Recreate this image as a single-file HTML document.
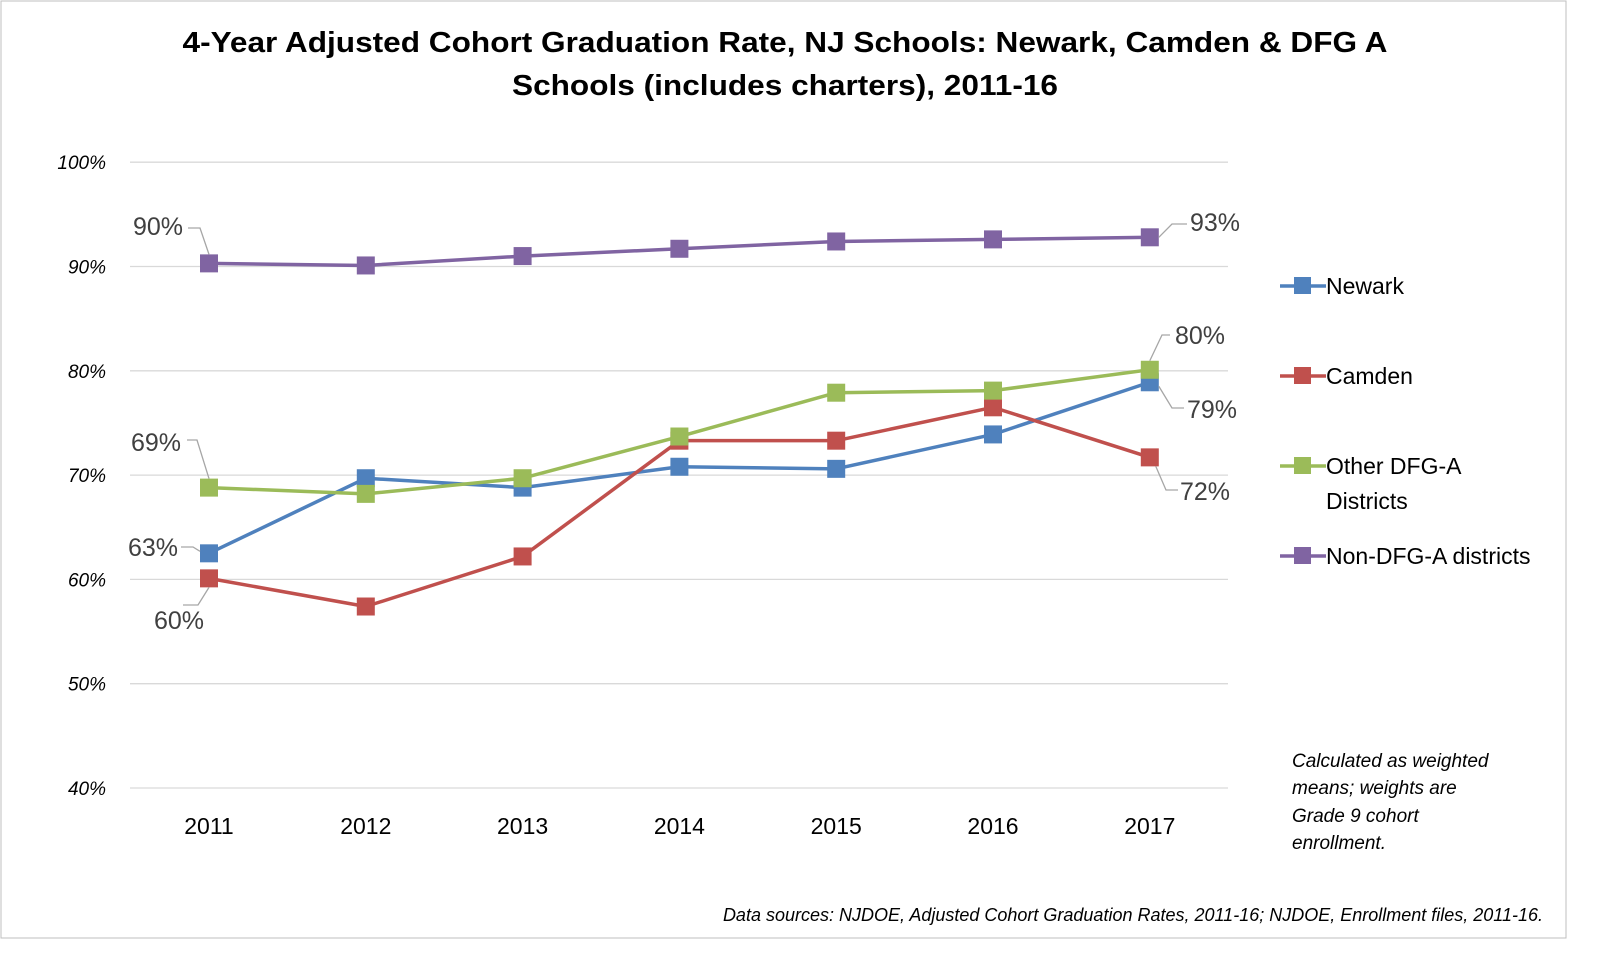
<!DOCTYPE html>
<html><head><meta charset="utf-8"><style>
html,body{margin:0;padding:0;background:#fff;overflow:hidden;width:1600px;height:960px;}
svg{display:block;font-family:"Liberation Sans",sans-serif;}
</style></head><body>
<svg width="1600" height="960" viewBox="0 0 1600 960">
<rect x="1" y="1" width="1565" height="937" fill="#fff" stroke="#bfbfbf"/>
<text x="785" y="52" text-anchor="middle" font-size="29" font-weight="bold" fill="#000" textLength="1205" lengthAdjust="spacingAndGlyphs">4-Year Adjusted Cohort Graduation Rate, NJ Schools: Newark, Camden &amp; DFG A</text>
<text x="785" y="95" text-anchor="middle" font-size="29" font-weight="bold" fill="#000" textLength="546" lengthAdjust="spacingAndGlyphs">Schools (includes charters), 2011-16</text>
<g id="grid"></g><g id="series"></g><g id="labels"></g>
<g font-size="23" fill="#000">
<line x1="1280" y1="286" x2="1326" y2="286" stroke="#4F81BD" stroke-width="3.5"/><rect x="1294" y="277" width="17" height="17" fill="#4F81BD"/>
<text x="1326" y="294">Newark</text>
<line x1="1280" y1="376" x2="1326" y2="376" stroke="#C0504D" stroke-width="3.5"/><rect x="1294" y="367" width="17" height="17" fill="#C0504D"/>
<text x="1326" y="384">Camden</text>
<line x1="1280" y1="466" x2="1326" y2="466" stroke="#9BBB59" stroke-width="3.5"/><rect x="1294" y="457" width="17" height="17" fill="#9BBB59"/>
<text x="1326" y="474">Other DFG-A</text>
<text x="1326" y="509">Districts</text>
<line x1="1280" y1="556" x2="1326" y2="556" stroke="#8064A2" stroke-width="3.5"/><rect x="1294" y="547" width="17" height="17" fill="#8064A2"/>
<text x="1326" y="564">Non-DFG-A districts</text>
</g>
<g font-size="19" font-style="italic" fill="#000">
<text x="1292" y="767">Calculated as weighted</text><text x="1292" y="794">means; weights are</text><text x="1292" y="822">Grade 9 cohort</text><text x="1292" y="849">enrollment.</text>
</g>
<text x="1543" y="921" text-anchor="end" font-size="18" font-style="italic" fill="#000">Data sources: NJDOE, Adjusted Cohort Graduation Rates, 2011-16; NJDOE, Enrollment files, 2011-16.</text>
</svg>
<script>
const years=['2011','2012','2013','2014','2015','2016','2017'];
const newark=[62.5,69.7,68.8,70.8,70.6,73.9,78.9];
const camden=[60.1,57.4,62.2,73.3,73.3,76.5,71.7];
const otherDfg=[68.8,68.2,69.7,73.7,77.9,78.1,80.1];
const nonDfg=[90.3,90.1,91.0,91.7,92.4,92.6,92.8];
const yTicks=[40,50,60,70,80,90,100];
const yTickLabels=['40%','50%','60%','70%','80%','90%','100%'];
const NS='http://www.w3.org/2000/svg';
const X=i=>209+i*156.8;
const Y=v=>788-(v-40)*10.43;
function mk(t,a,p){const e=document.createElementNS(NS,t);for(const k in a)e.setAttribute(k,a[k]);p.appendChild(e);return e;}
const grid=document.getElementById('grid');
yTicks.forEach((t,i)=>{
 const l=mk('line',{x1:130,x2:1228,y1:Y(t),y2:Y(t),stroke:'#d9d9d9','stroke-width':1.3},grid);
 
 
 const tx=mk('text',{x:106,y:Y(t)+7,'text-anchor':'end','font-size':19,'font-style':'italic',fill:'#000'},grid);
 tx.textContent=yTickLabels[i];
 
 
});
years.forEach((y,i)=>{
 const tx=mk('text',{x:X(i),y:834,'text-anchor':'middle','font-size':23,fill:'#000'},grid);
 tx.textContent=y;
 
 
});
const sg=document.getElementById('series');
[[newark,'#4F81BD','newark'],[camden,'#C0504D','camden'],[otherDfg,'#9BBB59','other-dfg-a'],[nonDfg,'#8064A2','non-dfg-a']].forEach(([d,c,n])=>{
 const g=mk('g',{},sg);
 
 
 mk('polyline',{points:d.map((v,i)=>X(i)+','+Y(v)).join(' '),fill:'none',stroke:c,'stroke-width':3.5,'stroke-linejoin':'round'},g);
 d.forEach((v,i)=>{
  const r=mk('rect',{x:X(i)-9,y:Y(v)-9,width:18,height:18,fill:c},g);
  
  
 });
});
const lg=document.getElementById('labels');
function lab(txt,tx,ty,path,anchor){
 mk('polyline',{points:path,fill:'none',stroke:'#a6a6a6','stroke-width':1.3},lg);
 const t=mk('text',{x:tx,y:ty,'font-size':25,fill:'#404040','text-anchor':anchor||'start'},lg);
 t.textContent=txt;
 
 
}
const r=v=>Math.round(v)+'%';
lab(r(nonDfg[0]),183,235,'188,228 200,228 '+X(0)+','+(Y(nonDfg[0])-9),'end');
lab(r(nonDfg[6]),1190,231,'1187,224 1172,224 '+(X(6)+9)+','+Y(nonDfg[6]));
lab(r(otherDfg[0]),181,451,'187,440 197,440 '+X(0)+','+(Y(otherDfg[0])-9),'end');
lab(r(newark[0]),178,556,'181,547 193,547 '+(X(0)-9)+','+(Y(newark[0])-2),'end');
lab(r(camden[0]),154,629,'183,605 198,605 '+X(0)+','+(Y(camden[0])+9));
lab(r(otherDfg[6]),1175,344,'1170,335 1162,335 '+X(6)+','+(Y(otherDfg[6])-9));
lab(r(newark[6]),1187,418,'1184,408 1172,408 '+(X(6)+9)+','+(Y(newark[6])+4));
lab(r(camden[6]),1180,500,'1178,490 1166,490 '+(X(6)+6)+','+(Y(camden[6])+9));
</script>
</body></html>
